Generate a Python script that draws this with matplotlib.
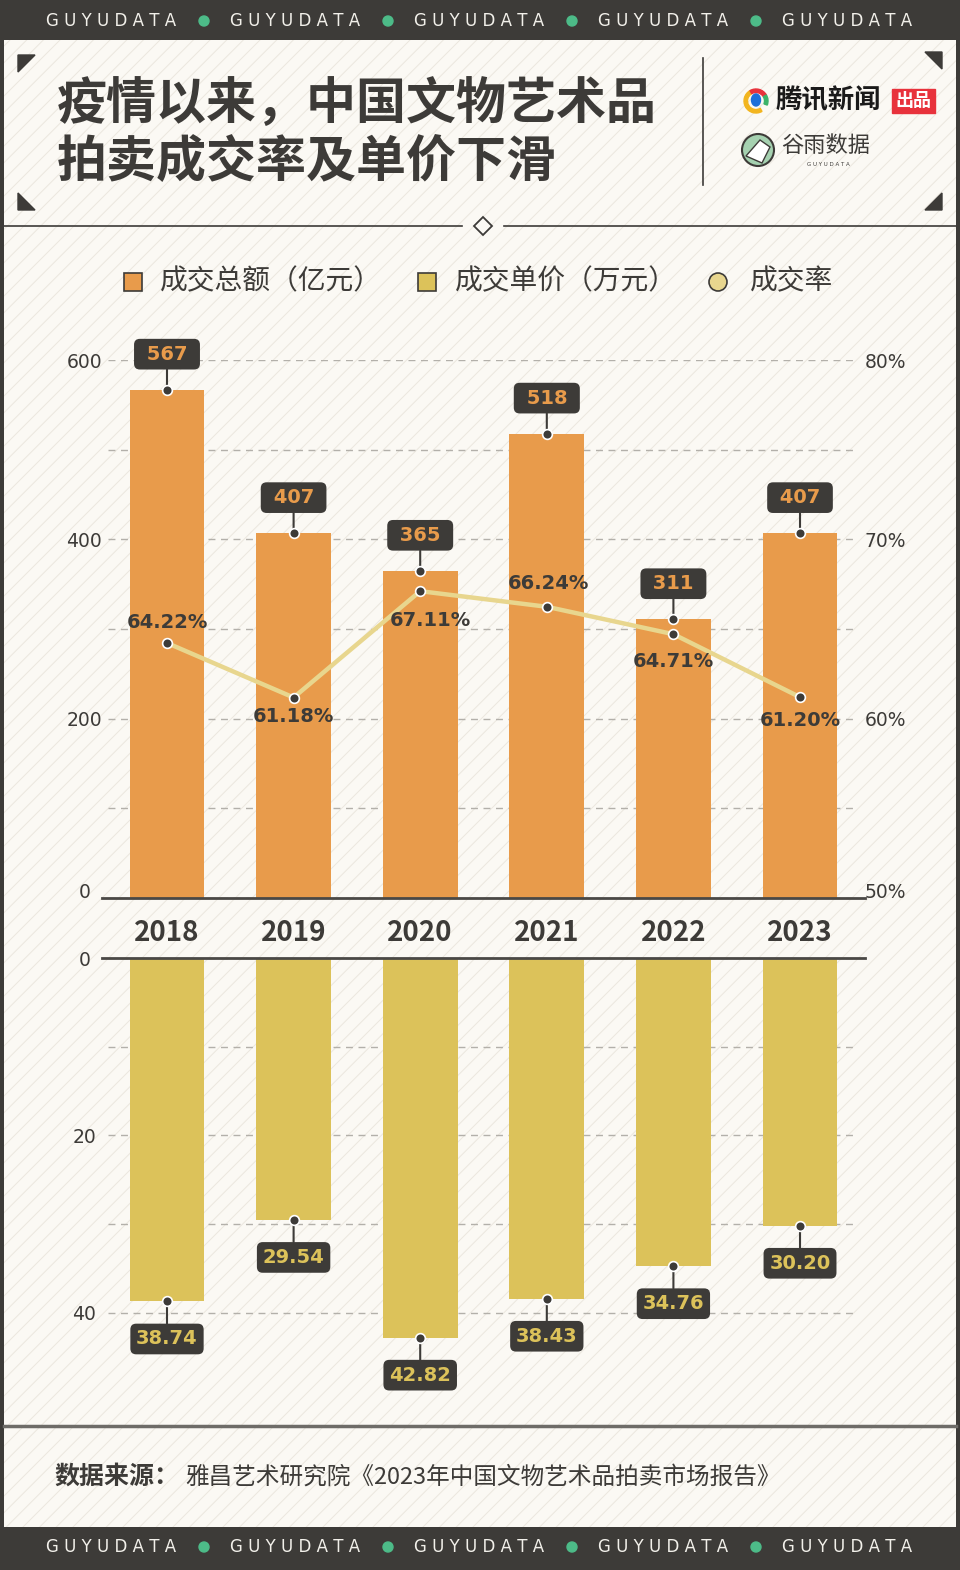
import matplotlib.pyplot as plt
import matplotlib.patches as mpatches
from matplotlib.ticker import MultipleLocator, FuncFormatter
import numpy as np

# data
years = ['2018', '2019', '2020', '2021', '2022', '2023']
total_amount = [567, 407, 365, 518, 311, 407]              # 成交总额（亿元）
unit_price = [38.74, 29.54, 42.82, 38.43, 34.76, 30.20]    # 成交单价（万元）
deal_rate = [64.22, 61.18, 67.11, 66.24, 64.71, 61.20]     # 成交率 (%)

DARK = '#3d3b38'
ORANGE = '#e89b4b'
YELLOW = '#dcc25a'
LINE_Y = '#e8d68e'
CREAM = '#fbf9f4'
GREEN = '#4dbb88'
GRID = '#b3b0aa'

plt.rcParams['font.family'] = ['Noto Sans CJK SC', 'DejaVu Sans']
plt.rcParams['hatch.linewidth'] = 0.7

fig = plt.figure(figsize=(9.6, 15.7), dpi=100, facecolor=DARK)

# ---- page decoration, pixel coords ----
bg = fig.add_axes([0, 0, 1, 1], zorder=0)
bg.set_xlim(0, 960)
bg.set_ylim(1570, 0)
bg.axis('off')
bg.add_patch(mpatches.Rectangle((4, 40), 952, 1487, facecolor=CREAM,
                                edgecolor='#ebe7de', hatch='//', lw=0))


def band(y):
    xs = [111, 295, 479, 663, 847]
    for xx in xs:
        bg.text(xx, y, 'G U Y U D A T A', color='#f2f0ea', fontsize=12,
                ha='center', va='center', family='DejaVu Sans')
    for xx in xs[:-1]:
        bg.add_patch(mpatches.Circle((xx + 93, y), 5, color=GREEN))


band(21)
band(1547)

# title
bg.text(57, 105, '疫情以来，中国文物艺术品', fontsize=36, fontweight='heavy',
        color=DARK, va='center')
bg.text(57, 162, '拍卖成交率及单价下滑', fontsize=36, fontweight='heavy',
        color=DARK, va='center')

# corner triangles
for pts in [[(18, 55), (35, 55), (18, 72)], [(942, 52), (925, 52), (942, 69)],
            [(18, 210), (18, 193), (35, 210)], [(942, 210), (942, 193), (925, 210)]]:
    bg.add_patch(mpatches.Polygon(pts, closed=True, color=DARK))

bg.plot([703, 703], [58, 185], color=DARK, lw=1.2)

# divider with diamond
bg.plot([4, 462], [226, 226], color=DARK, lw=1.2)
bg.plot([504, 956], [226, 226], color=DARK, lw=1.2)
bg.add_patch(mpatches.Polygon([(483, 217), (492, 226), (483, 235), (474, 226)],
                              closed=True, fc=CREAM, ec=DARK, lw=1.3))

# logos
for t1, c in zip([(60, 150), (150, 240), (240, 330), (330, 380)],
                 ['#f2b51f', '#f2b51f', '#e8323c', '#3bb36a']):
    bg.add_patch(mpatches.Wedge((756, 101), 12, t1[0], t1[1], width=3.5, color=c))
bg.add_patch(mpatches.Ellipse((756, 100), 9, 12, color='#1c6fd9'))
bg.text(776, 101, '腾讯新闻', fontsize=19, fontweight='heavy', color='#1a1a1a',
        va='center')
bg.add_patch(mpatches.Rectangle((892, 89), 43, 24, color='#e8323c'))
bg.text(913, 101, '出品', fontsize=13, fontweight='bold', color='white',
        ha='center', va='center')

bg.add_patch(mpatches.Circle((758, 150), 16, fc='#a5d1b0', ec=DARK, lw=1.5))
bg.add_patch(mpatches.Polygon([(746, 156), (760, 140), (770, 147), (762, 163)],
                              closed=True, fc='white', ec=DARK, lw=1))
bg.text(781, 146, '谷雨数据', fontsize=16, color=DARK, va='center')
bg.text(828, 164, 'G U Y U D A T A', fontsize=4, color=DARK, ha='center',
        va='center', family='DejaVu Sans')

# legend
bg.add_patch(mpatches.Rectangle((124, 273), 18, 18, fc=ORANGE, ec=DARK, lw=1.2))
bg.text(160, 281, '成交总额（亿元）', fontsize=20, color=DARK, va='center')
bg.add_patch(mpatches.Rectangle((418, 273), 18, 18, fc=YELLOW, ec=DARK, lw=1.2))
bg.text(455, 281, '成交单价（万元）', fontsize=20, color=DARK, va='center')
bg.add_patch(mpatches.Circle((718, 282), 9, fc=LINE_Y, ec=DARK, lw=1.2))
bg.text(750, 281, '成交率', fontsize=20, color=DARK, va='center')

# footer
bg.plot([4, 956], [1426, 1426], color='#6e6c68', lw=2.5)
bg.text(54, 1477, '数据来源：', fontsize=18, fontweight='bold', color=DARK,
        va='center')
bg.text(185, 1477, '雅昌艺术研究院《2023年中国文物艺术品拍卖市场报告》',
        fontsize=17, color=DARK, va='center')

x = np.arange(len(years))
num_font = 'DejaVu Sans'
dash = (0, (5, 4))
box = dict(boxstyle='round,pad=0.3,rounding_size=0.3', fc=DARK, ec='none')


def left_ticks(a):
    a.tick_params(axis='y', which='both', length=0, labelsize=13.5,
                  labelcolor=DARK, pad=17)
    for lab in a.get_yticklabels():
        lab.set_family(num_font)
        lab.set_ha('center')


# ---- top: total amount bars + deal rate line ----
ax = fig.add_axes([108 / 960, (1570 - 898) / 1570, 750 / 960, 538 / 1570], zorder=2)
ax.set_facecolor('none')
ax.bar(x, total_amount, width=0.59, color=ORANGE)
ax.set_xlim(-0.466, 5.458)
ax.set_ylim(0, 600)
ax.set_yticks([0, 200, 400, 600])
ax.yaxis.set_minor_locator(MultipleLocator(100))
ax.set_axisbelow(True)
ax.grid(axis='y', which='both', ls=dash, color=GRID, lw=1)
for s in ax.spines.values():
    s.set_visible(False)
ax.axhline(0, xmin=-6 / 750, xmax=1 + 7 / 750, color='#4a4845', lw=2, clip_on=False)
left_ticks(ax)
ax.get_yticklabels()[0].set_va('baseline')
ax.set_xticks(x, years)
ax.tick_params(axis='x', length=0, pad=15, labelsize=20, labelcolor=DARK)
for lab in ax.get_xticklabels():
    lab.set_fontweight('bold')

for xi, v in zip(x, total_amount):
    ax.annotate(f' {v} ', xy=(xi, v), xytext=(0, 25.5), textcoords='offset points',
                ha='center', va='center', fontsize=14, fontweight='bold',
                color=ORANGE, family=num_font, bbox=box,
                arrowprops=dict(arrowstyle='-', color=DARK, lw=1.5, shrinkA=0, shrinkB=0),
                annotation_clip=False)
    ax.plot(xi, v, 'o', ms=7, mfc=DARK, mec='white', mew=1.2, zorder=5, clip_on=False)

ax2 = ax.twinx()
ax2.set_zorder(3)
ax2.set_ylim(50, 80)
ax2.set_yticks([50, 60, 70, 80])
ax2.yaxis.set_major_formatter(FuncFormatter(lambda v, p: f'{v:.0f}%'))
for s in ax2.spines.values():
    s.set_visible(False)
ax2.tick_params(axis='y', length=0, labelsize=13.5, labelcolor=DARK, pad=5)
for lab in ax2.get_yticklabels():
    lab.set_family(num_font)
ax2.get_yticklabels()[0].set_va('baseline')
ax2.plot(x, deal_rate, color=LINE_Y, lw=3.2, marker='o', ms=7, mfc=DARK,
         mec='white', mew=1.2)
rate_offsets = [(0, 15), (0, -14), (7, -21), (1, 17), (0, -20), (0, -17)]
for xi, v, off in zip(x, deal_rate, rate_offsets):
    ax2.annotate(f'{v:.2f}%', xy=(xi, v), xytext=off, textcoords='offset points',
                 ha='center', va='center', fontsize=14, fontweight='bold',
                 color=DARK, family=num_font)

# ---- bottom: unit price bars (downward) ----
bx = fig.add_axes([108 / 960, (1570 - 1357) / 1570, 750 / 960, 399 / 1570], zorder=2)
bx.set_facecolor('none')
bx.bar(x, unit_price, width=0.59, color=YELLOW)
bx.set_xlim(-0.466, 5.458)
bx.set_ylim(45, 0)
bx.set_yticks([0, 20, 40])
bx.yaxis.set_minor_locator(MultipleLocator(10))
bx.set_axisbelow(True)
bx.grid(axis='y', which='both', ls=dash, color=GRID, lw=1)
for s in bx.spines.values():
    s.set_visible(False)
bx.axhline(0, xmin=-6 / 750, xmax=1 + 7 / 750, color='#4a4845', lw=2, clip_on=False)
bx.set_xticks([])
left_ticks(bx)

for xi, v in zip(x, unit_price):
    bx.annotate(f'{v:.2f}', xy=(xi, v), xytext=(0, -27), textcoords='offset points',
                ha='center', va='center', fontsize=14, fontweight='bold',
                color=YELLOW, family=num_font, bbox=box,
                arrowprops=dict(arrowstyle='-', color=DARK, lw=1.5, shrinkA=0, shrinkB=0),
                annotation_clip=False)
    bx.plot(xi, v, 'o', ms=7, mfc=DARK, mec='white', mew=1.2, zorder=5, clip_on=False)

fig.savefig('out.png', dpi=100, facecolor=DARK)
